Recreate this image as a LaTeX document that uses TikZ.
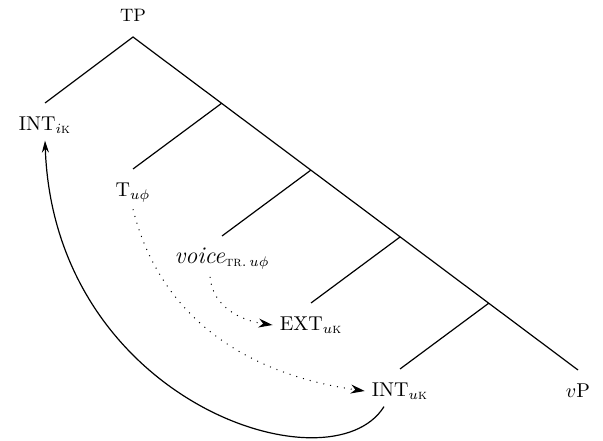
\documentclass[tikz,border=0pt]{standalone}
\usepackage{amsfonts,amssymb,amsmath}
\usepackage{tikz}
\usetikzlibrary{arrows.meta,positioning}

\begin{document}
\begin{tikzpicture}[x=0.5pt,y=0.5pt,line width=0.6pt,
mv/.style={-{Stealth[length=7pt,width=4.5pt]},line width=0.5pt,dash pattern=on 0.5pt off 3pt},
cp/.style={-{Stealth[length=6pt,width=3.5pt]}}]
\useasboundingbox(0,0)rectangle(603,440);
\coordinate(tp)at(133,403);
\coordinate(p1)at(222,337);
\coordinate(p2)at(311,270);
\coordinate(p3)at(400,203);
\coordinate(p4)at(489,137);
\coordinate(a)at(45,337);
\coordinate(b)at(133,271);
\coordinate(c)at(222,204);
\coordinate(d)at(311,137);
\coordinate(e)at(400,71);
\coordinate(f)at(578,70);
\draw(a)--(tp)--(f)
(p1)--(b)(p2)--(c)(p3)--(d)(p4)--(e);
\node[above=4pt of tp,font=\small](tplab){TP};
\node[below=3.2pt of a](intI){INT$_{i\textsc{k}}$};
\node[below=3.2pt of b](tu){T$_{u\phi}$};
\node[below=2.5pt of c](voice){{\large\textit{voice}}$_{\textsc{tr}.\,u\phi}$};
\node[below=3.2pt of d](ext){EXT$_{u\textsc{k}}$};
\node[below=3.2pt of e](intU){INT$_{u\textsc{k}}$};
\node[below=3.2pt of f](vp){$v$P};
\draw[mv](tu.south)to[out=-76,in=172](intU.west);
\draw[mv]([xshift=-6pt]voice.south)to[out=-85,in=172](ext.west);
\draw[cp]([xshift=-8pt]intU.south)to[out=-122,in=-88,out distance=50pt,in distance=131pt](intI.south);
\end{tikzpicture}
\end{document}
